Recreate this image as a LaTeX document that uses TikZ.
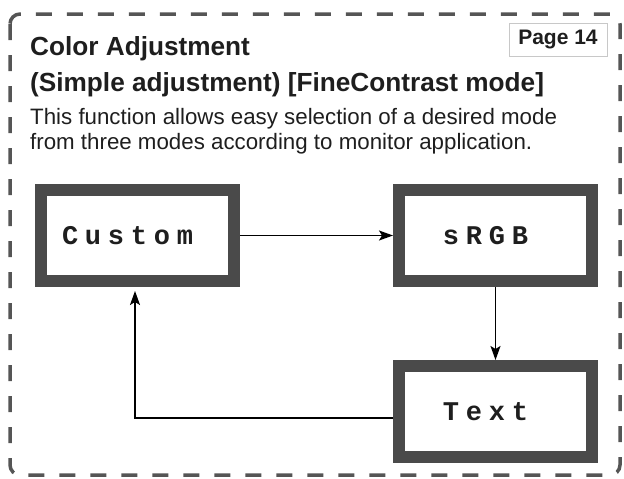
\documentclass[tikz,border=0pt]{standalone}
\usepackage{fontspec}
\setmainfont{Liberation Sans}
\newfontfamily\lblfont[LetterSpace=25]{Liberation Mono}
\usetikzlibrary{arrows.meta}
\definecolor{framegray}{HTML}{555555}
\definecolor{boxgray}{HTML}{4A4A4A}
\definecolor{pagegray}{HTML}{C8C8C8}
\definecolor{txt}{HTML}{1E1E1E}
\tikzset{
  monitor/.style={draw=boxgray, line width=12pt, fill=white, minimum width=193pt, minimum height=91pt, inner sep=0pt, font=\lblfont\bfseries\fontsize{27}{27}\selectfont, text=txt},
  conn/.style={line width=1.4pt, -{Stealth[length=14pt,width=10pt,inset=3pt]}},
  frame/.style={draw=framegray, line width=3.5pt, dash pattern=on 16pt off 15pt, rounded corners=10pt},
  pagebox/.style={draw=pagegray, line width=0.9pt, minimum width=98pt, minimum height=33pt, inner sep=0pt, font=\bfseries\fontsize{21}{21}\selectfont, text=txt},
  ttl/.style={anchor=base west, inner sep=0pt, font=\bfseries\fontsize{26.2}{26.2}\selectfont, text=txt},
  body/.style={anchor=base west, inner sep=0pt, font=\fontsize{22.3}{22.3}\selectfont, text=txt}
}
\begin{document}
\begin{tikzpicture}[x=1pt,y=-1pt]
\useasboundingbox (0,0) rectangle (624,479);
\draw[frame] (10,14) rectangle (620,475);
\node[ttl] (t1) at (30,55) {Color Adjustment};
\node[pagebox] (page) at (558,39.5) {Page 14};
\node[ttl] (t2) at (30,91) {(Simple adjustment) [FineContrast mode]};
\node[body] (b1) at (30,124) {This function allows easy selection of a desired mode};
\node[body] (b2) at (30,149) {from three modes according to monitor application.};
\node[monitor] (custom) at (137.5,235.5) {Custom\kern20pt};
\node[monitor] (srgb) at (495.5,235.5) {sRGB\kern20pt};
\node[monitor] (text) at (495.5,411.5) {Text\kern20pt};
\coordinate (corner) at (135,418);
\draw[conn] (custom.east) -- (srgb.west);
\draw[conn] (srgb.south) -- (text.north);
\draw[conn, shorten >=4pt] (text.west |- corner) -- (corner) -- (corner |- custom.south);
\end{tikzpicture}
\end{document}
